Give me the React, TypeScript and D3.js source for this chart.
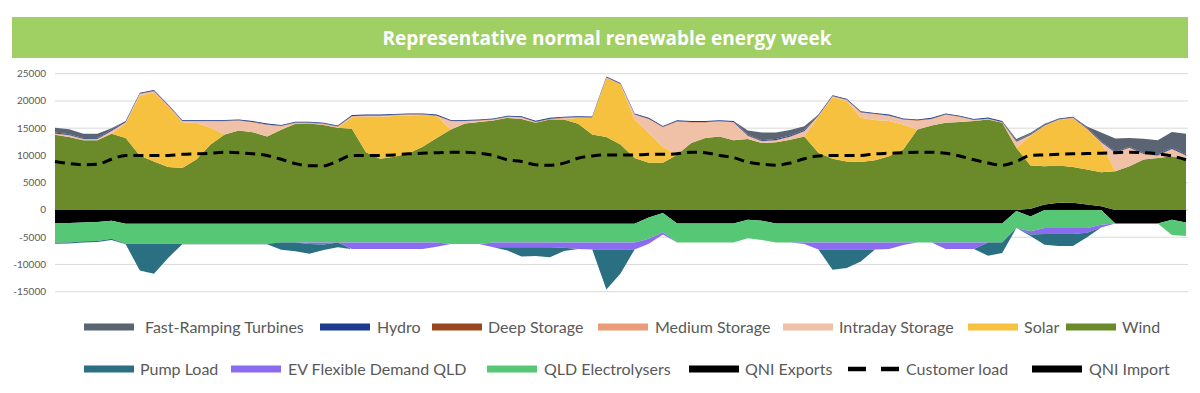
import React from "react";
import * as d3 from "d3";

// one representative week, sampled every 1.5 h (81 points)
const hours = d3.range(0, 120.1, 1.5);

// generation (MW), stacked upward from zero
const qniImport = [
  0, 0, 0, 0, 0, 0, 0, 0, 0, 0, 0, 0, 0, 0, 0, 0, 0, 0, 0, 0,
  0, 0, 0, 0, 0, 0, 0, 0, 0, 0, 0, 0, 0, 0, 0, 0, 0, 0, 0, 0,
  0, 0, 0, 0, 0, 0, 0, 0, 0, 0, 0, 0, 0, 0, 0, 0, 0, 0, 0, 0,
  0, 0, 0, 0, 0, 0, 0, 0, 0, 200, 1000, 1300, 1300, 1000, 700, 0, 0, 0, 0, 0,
  0,
];
const wind = [
  13800, 13400, 12800, 12800, 14000, 13200, 10000, 8900, 7900, 7700,
  9250, 12000, 13850, 14600, 14250, 13500, 14700, 15800, 15850, 15600,
  15100, 14900, 10600, 9400, 9750, 10350, 11600, 13200, 14750, 15850,
  16150, 16400, 16900, 16700, 16000, 16600, 16600, 15800, 13850, 13400,
  12000, 9550, 8650, 8650, 10150, 12300, 13200, 13500, 12800, 13000,
  12300, 12400, 12900, 13500, 10500, 9400, 8900, 8800, 9100, 9850,
  11100, 14750, 15500, 16000, 16150, 16300, 16600, 16000, 11400, 7950,
  7000, 6850, 6600, 6400, 6200, 7100, 8000, 9250, 9550, 9850,
  9250,
];
const solar = [
  0, 0, 0, 0, 0, 2700, 11000, 12700, 11100, 8400,
  6750, 3100, 0, 0, 0, 0, 0, 0, 0, 0,
  0, 2100, 6500, 7700, 7500, 7000, 5800, 4000, 0, 0,
  0, 0, 0, 0, 0, 0, 0, 1100, 3000, 10800,
  11000, 7050, 5500, 2950, 0, 0, 0, 0, 0, 0,
  0, 0, 0, 0, 6700, 11300, 11100, 8100, 7400, 6450,
  4600, 0, 0, 0, 0, 0, 0, 0, 0, 5450,
  7400, 8350, 8900, 7400, 5400, 0, 0, 0, 0, 0,
  0,
];
const intradayStorage = [
  100, 200, 100, 100, 400, 100, 200, 100, 50, 100,
  200, 1100, 2350, 1700, 1750, 2050, 600, 100, 50, 100,
  100, 100, 100, 100, 50, 50, 0, 0, 1450, 350,
  150, 100, 100, 200, 50, 0, 200, 0, 0, 0,
  0, 800, 2450, 3500, 6000, 3700, 2800, 2670, 3200, 500,
  200, 300, 450, 850, 0, 50, 100, 900, 1000, 900,
  800, 1550, 1100, 1400, 850, 100, 50, 0, 1000, 50,
  0, 0, 0, 0, 0, 3300, 3300, 900, 350, 1250,
  650,
];
const mediumStorage = [
  100, 100, 100, 100, 100, 100, 100, 100, 100, 100,
  100, 100, 100, 100, 100, 100, 100, 100, 100, 100,
  100, 100, 100, 100, 100, 100, 100, 100, 100, 100,
  100, 100, 100, 100, 100, 100, 100, 100, 100, 100,
  100, 100, 100, 100, 100, 100, 100, 100, 100, 100,
  100, 100, 100, 100, 100, 100, 100, 100, 100, 100,
  100, 100, 100, 100, 100, 100, 100, 100, 100, 100,
  100, 100, 100, 100, 100, 100, 100, 100, 100, 100,
  100,
];
const deepStorage = [
  50, 50, 50, 50, 50, 50, 50, 50, 50, 50,
  50, 50, 50, 50, 50, 50, 50, 50, 50, 50,
  50, 50, 50, 50, 50, 50, 50, 50, 50, 50,
  50, 50, 50, 50, 50, 50, 50, 50, 50, 50,
  50, 50, 50, 50, 50, 50, 50, 50, 50, 50,
  50, 50, 50, 50, 50, 50, 50, 50, 50, 50,
  50, 50, 50, 50, 50, 50, 50, 50, 50, 50,
  50, 50, 50, 50, 50, 50, 50, 50, 50, 50,
  50,
];
const hydro = [
  150, 150, 150, 150, 150, 150, 150, 150, 150, 150,
  150, 150, 150, 150, 150, 150, 150, 150, 150, 150,
  150, 150, 150, 150, 150, 150, 150, 150, 150, 150,
  150, 150, 150, 150, 150, 150, 150, 150, 150, 150,
  150, 150, 150, 150, 150, 150, 150, 150, 150, 150,
  150, 150, 150, 150, 150, 150, 150, 150, 150, 150,
  150, 150, 150, 150, 150, 150, 150, 150, 150, 150,
  150, 150, 150, 150, 150, 150, 150, 150, 150, 150,
  150,
];
const fastRamping = [
  900, 900, 800, 800, 300, 0, 0, 0, 0, 0,
  0, 0, 0, 0, 0, 0, 0, 0, 0, 0,
  0, 0, 0, 0, 0, 0, 0, 0, 0, 0,
  0, 0, 0, 0, 0, 0, 0, 0, 0, 0,
  0, 0, 0, 0, 0, 0, 0, 0, 0, 800,
  1400, 1200, 1000, 700, 0, 0, 0, 0, 0, 0,
  0, 0, 0, 0, 0, 0, 0, 0, 300, 200,
  100, 0, 0, 200, 1600, 2400, 1600, 2600, 2600, 2900,
  3800,
];

// loads (MW), stacked downward from zero
const qniExports = [
  -2400, -2400, -2300, -2200, -2000, -2550, -2550, -2550, -2550, -2550,
  -2550, -2550, -2550, -2550, -2550, -2550, -2550, -2550, -2550, -2550,
  -2550, -2550, -2550, -2550, -2550, -2550, -2550, -2550, -2550, -2550,
  -2550, -2550, -2550, -2550, -2550, -2550, -2550, -2550, -2550, -2550,
  -2550, -2550, -1400, -550, -2500, -2500, -2500, -2500, -2500, -1800,
  -2000, -2500, -2500, -2500, -2500, -2500, -2500, -2500, -2500, -2500,
  -2500, -2500, -2500, -2500, -2500, -2500, -2500, -2500, -200, -1200,
  0, 0, 0, 0, 0, -2500, -2500, -2500, -2500, -1800,
  -2300,
];
const electrolysers = [
  -3600, -3550, -3450, -3500, -3300, -3650, -3650, -3650, -3650, -3650,
  -3650, -3650, -3650, -3650, -3650, -3650, -3400, -3400, -3400, -3400,
  -3400, -3400, -3400, -3400, -3400, -3400, -3400, -3400, -3700, -3700,
  -3700, -3400, -3400, -3400, -3400, -3400, -3400, -3400, -3400, -3400,
  -3400, -3400, -3900, -3550, -3450, -3450, -3450, -3450, -3450, -3400,
  -3500, -3450, -3450, -3450, -3450, -3450, -3450, -3450, -3450, -3450,
  -3450, -3450, -3450, -3450, -3450, -3450, -3450, -3450, -3100, -2700,
  -3300, -3300, -3300, -3300, -2700, 0, 0, 0, 0, -2800,
  -2500,
];
const evDemand = [
  0, 0, 0, 0, 0, 0, 0, 0, 0, 0,
  0, 0, 0, 0, 0, 0, 0, 0, -300, -400,
  0, -1200, -1200, -1200, -1200, -1200, -1200, -800, 0, 0,
  0, -900, -900, -900, -900, -900, -1000, -1200, -1300, -1300,
  -1300, -1300, -900, -400, 0, 0, 0, 0, 0, 0,
  0, 0, 0, -300, -1300, -1300, -1300, -1300, -1300, -1200,
  -500, 0, 0, -1200, -1200, -1200, 0, 0, 0, -600,
  -1100, -1100, -1100, -900, -500, 0, 0, 0, 0, 0,
  0,
];
const pumpLoad = [
  -200, -200, -200, -200, -200, -100, -4900, -5500, -2600, -100,
  -100, -100, -100, -100, -100, -100, -1350, -1650, -1800, -1000,
  -900, 0, 0, 0, 0, 0, 0, 0, 0, 0,
  0, 0, -600, -1700, -1600, -1850, -600, 0, 0, -7350,
  -4400, 0, 0, 0, 0, 0, 0, 0, 0, 0,
  0, 0, 0, 0, 0, -3700, -3400, -2200, 0, 0,
  0, 0, 0, 0, 0, 0, -2450, -1950, 0, -300,
  -2000, -2200, -2200, -800, 0, 0, 0, 0, 0, 0,
  0,
];

const customerLoad = [
  8900, 8500, 8300, 8400, 9300, 10000, 10000, 10000, 10000, 10200,
  10300, 10400, 10600, 10500, 10300, 10000, 9300, 8500, 8100, 8100,
  9000, 10000, 10000, 10000, 10100, 10300, 10400, 10500, 10600, 10600,
  10400, 10000, 9200, 8900, 8300, 8200, 8600, 9500, 9900, 10100,
  10100, 10100, 10200, 10200, 10300, 10600, 10500, 10000, 9600, 8800,
  8400, 8200, 8600, 9400, 9900, 10000, 10000, 10000, 10300, 10400,
  10500, 10600, 10600, 10400, 9900, 9200, 8600, 8200, 8900, 10000,
  10100, 10200, 10300, 10350, 10400, 10500, 10600, 10500, 10300, 9900,
  9200,
];

const yTicks = [-15000, -10000, -5000, 0, 5000, 10000, 15000, 20000, 25000];

const series: Record<string, number[]> = {
  qniImport, wind, solar, intradayStorage, mediumStorage, deepStorage, hydro, fastRamping,
  qniExports, electrolysers, evDemand, pumpLoad,
};
const positiveKeys = ["qniImport", "wind", "solar", "intradayStorage", "mediumStorage", "deepStorage", "hydro", "fastRamping"];
const negativeKeys = ["qniExports", "electrolysers", "evDemand", "pumpLoad"];

const colors: Record<string, string> = {
  fastRamping: "#5b6472",
  hydro: "#1c3b8e",
  deepStorage: "#9a461f",
  mediumStorage: "#eb9d79",
  intradayStorage: "#f0c0a7",
  solar: "#f5c13f",
  wind: "#6b8b2b",
  pumpLoad: "#2b6f82",
  evDemand: "#8b6cf1",
  electrolysers: "#56c774",
  qniExports: "#000000",
  qniImport: "#000000",
};

// legend rows: [key, label, swatch x, text x]
const legendRow1: [string, string, number, number][] = [
  ["fastRamping", "Fast-Ramping Turbines", 84, 145],
  ["hydro", "Hydro", 320, 377],
  ["deepStorage", "Deep Storage", 432, 488],
  ["mediumStorage", "Medium Storage", 598, 655],
  ["intradayStorage", "Intraday Storage", 783, 839],
  ["solar", "Solar", 968, 1024],
  ["wind", "Wind", 1066, 1122],
];
const legendRow2: [string, string, number, number][] = [
  ["pumpLoad", "Pump Load", 84, 140],
  ["evDemand", "EV Flexible Demand QLD", 231, 288],
  ["electrolysers", "QLD Electrolysers", 487, 544],
  ["qniExports", "QNI Exports", 689, 745],
  ["customerLoad", "Customer load", 848, 906],
  ["qniImport", "QNI Import", 1032, 1089],
];

export default function App() {
  const x = d3.scaleLinear().domain([0, 120]).range([55, 1186]);
  const y = d3.scaleLinear().domain([-15000, 25000]).range([291.7, 73.7]);

  const rows = hours.map((h, i) => {
    const r: Record<string, number> = { h };
    Object.keys(series).forEach((k) => (r[k] = series[k][i]));
    return r;
  });

  const posStack = d3.stack<Record<string, number>>().keys(positiveKeys)(rows);
  const negStack = d3.stack<Record<string, number>>().keys(negativeKeys)(rows);

  const area = d3
    .area<d3.SeriesPoint<Record<string, number>>>()
    .x((d) => x(d.data.h))
    .y0((d) => y(d[0]))
    .y1((d) => y(d[1]));

  const loadLine = d3
    .line<number>()
    .x((_, i) => x(hours[i]))
    .y((d) => y(d))
    .curve(d3.curveMonotoneX);

  const font = "Lato, 'Open Sans', sans-serif";

  const legendItem = ([key, label, sx, tx]: [string, string, number, number], cy: number) => (
    <g key={key}>
      {key === "customerLoad" ? (
        <line x1={sx} x2={sx + 52} y1={cy} y2={cy} stroke="#000" strokeWidth={4.5} strokeDasharray="18,15" />
      ) : (
        <rect x={sx} y={cy - 3.5} width={50} height={7} fill={colors[key]} />
      )}
      <text x={tx} y={cy + 5.5} fontSize={16} fill="#595959" fontFamily={font}>
        {label}
      </text>
    </g>
  );

  return (
    <svg
      width={1200}
      height={393}
      style={{ position: "absolute", left: 0, top: 0, display: "block", background: "#fff" }}
    >
      <rect x={12} y={17} width={1176} height={41} fill="#a0cf63" />
      <text
        x={607}
        y={45}
        textAnchor="middle"
        fontSize={19}
        fontWeight="bold"
        fill="#fff"
        fontFamily="'Open Sans', sans-serif"
      >
        Representative normal renewable energy week
      </text>

      {yTicks.map((t) => (
        <g key={t}>
          <line x1={55} x2={1188} y1={y(t)} y2={y(t)} stroke="#d9d9d9" strokeWidth={1} />
          <text x={46} y={y(t) + 3.5} textAnchor="end" fontSize={10} fill="#595959" fontFamily={font}>
            {t}
          </text>
        </g>
      ))}

      {posStack.map((s) => (
        <path key={s.key} d={area(s) || ""} fill={colors[s.key]} />
      ))}
      {negStack.map((s) => (
        <path key={s.key} d={area(s) || ""} fill={colors[s.key]} />
      ))}

      <path
        d={loadLine(customerLoad) || ""}
        fill="none"
        stroke="#000"
        strokeWidth={3}
        strokeDasharray="10,6"
      />

      {legendRow1.map((it) => legendItem(it, 327))}
      {legendRow2.map((it) => legendItem(it, 369))}
    </svg>
  );
}
